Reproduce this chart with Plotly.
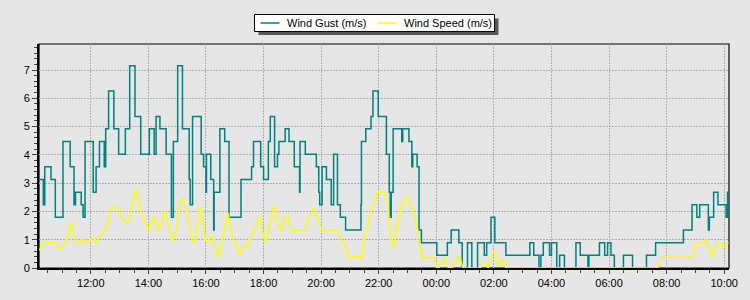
import plotly.graph_objects as go

D1 = "2024-06-01 "
D2 = "2024-06-02 "

# Wind gust (m/s) - value changes (step line)
gust_times = [
    D1+"10:13", D1+"10:21", D1+"10:24", D1+"10:37", D1+"10:46", D1+"11:02", D1+"11:17", D1+"11:25",
    D1+"11:28", D1+"11:40", D1+"11:44", D1+"11:48", D1+"12:05", D1+"12:11", D1+"12:18", D1+"12:28",
    D1+"12:31", D1+"12:37", D1+"12:48", D1+"12:58", D1+"13:12", D1+"13:21", D1+"13:32", D1+"13:44",
    D1+"14:02", D1+"14:12", D1+"14:16", D1+"14:24", D1+"14:37", D1+"14:48", D1+"14:52", D1+"15:01",
    D1+"15:11", D1+"15:25", D1+"15:27", D1+"15:32", D1+"15:50", D1+"15:55", D1+"16:00", D1+"16:01",
    D1+"16:10", D1+"16:16", D1+"16:17", D1+"16:29", D1+"16:39", D1+"16:48", D1+"17:13", D1+"17:35",
    D1+"17:39", D1+"17:54", D1+"18:00", D1+"18:10", D1+"18:14", D1+"18:23", D1+"18:29", D1+"18:32",
    D1+"18:45", D1+"18:53", D1+"19:04", D1+"19:15", D1+"19:16", D1+"19:27", D1+"19:50", D1+"19:55",
    D1+"19:57", D1+"20:02", D1+"20:11", D1+"20:21", D1+"20:26", D1+"20:34", D1+"20:40", D1+"20:51",
    D1+"21:23", D1+"21:24", D1+"21:33", D1+"21:44", D1+"21:48", D1+"21:59", D1+"22:16", D1+"22:22",
    D1+"22:24", D1+"22:26", D1+"22:30", D1+"22:48", D1+"22:50", D1+"23:03", D1+"23:09", D1+"23:11",
    D1+"23:20", D1+"23:24", D1+"23:29", D2+"00:01", D2+"00:23", D2+"00:31", D2+"00:47", D2+"00:54",
    D2+"01:05", D2+"01:14", D2+"01:26", D2+"01:40", D2+"01:45", D2+"01:54", D2+"02:02", D2+"02:25",
    D2+"03:15", D2+"03:23", D2+"03:34", D2+"03:38", D2+"03:43", D2+"03:56", D2+"04:00", D2+"04:11",
    D2+"04:17", D2+"04:27", D2+"04:51", D2+"05:00", D2+"05:16", D2+"05:18", D2+"05:40", D2+"05:51",
    D2+"05:57", D2+"06:04", D2+"06:11", D2+"06:30", D2+"06:49", D2+"07:18", D2+"07:37", D2+"08:35",
    D2+"08:53", D2+"09:03", D2+"09:09", D2+"09:27", D2+"09:29", D2+"09:38", D2+"09:47", D2+"10:04",
    D2+"10:07", D2+"10:09",
]
gust_values = [
    3.13, 2.24, 3.58, 3.13, 1.79, 4.47, 3.58, 2.24,
    2.68, 2.24, 1.79, 4.47, 2.68, 3.58, 4.47, 3.58,
    4.92, 6.26, 4.92, 4.02, 4.92, 7.15, 5.36, 4.02,
    4.92, 4.02, 5.36, 4.92, 4.02, 1.79, 4.47, 7.15,
    4.92, 3.13, 2.24, 5.36, 4.02, 3.58, 2.68, 4.02,
    3.13, 1.34, 2.68, 4.92, 4.47, 1.79, 3.13, 3.58,
    4.47, 3.58, 3.13, 4.47, 5.36, 3.58, 4.02, 4.47,
    4.92, 4.47, 3.58, 2.68, 4.47, 4.02, 3.58, 2.68,
    2.24, 3.58, 3.13, 2.24, 4.02, 2.24, 1.79, 1.34,
    2.24, 4.47, 4.92, 5.36, 6.26, 5.36, 4.02, 2.68,
    1.79, 2.68, 4.92, 4.47, 4.92, 4.47, 3.58, 4.02,
    3.58, 1.34, 0.89, 0.45, 0.89, 1.34, 0.89, 0.00,
    0.89, 0.00, 0.89, 0.45, 0.89, 1.79, 0.89, 0.45,
    0.89, 0.45, 0.00, 0.45, 0.89, 0.45, 0.89, 0.00,
    0.45, 0.00, 0.89, 0.45, 0.00, 0.45, 0.89, 0.45,
    0.89, 0.45, 0.00, 0.45, 0.00, 0.45, 0.89, 1.34,
    2.24, 1.79, 2.24, 1.34, 1.79, 2.68, 2.24, 1.79,
    2.68, 2.68,
]

# Wind speed (m/s)
speed_times = [
    D1+"10:13", D1+"10:19", D1+"10:47", D1+"10:50", D1+"10:57", D1+"11:02", D1+"11:08", D1+"11:13",
    D1+"11:18", D1+"11:21", D1+"11:25", D1+"11:29", D1+"11:37", D1+"11:40", D1+"11:46", D1+"11:49",
    D1+"11:56", D1+"12:00", D1+"12:06", D1+"12:11", D1+"12:17", D1+"12:23", D1+"12:30", D1+"12:35",
    D1+"12:41", D1+"12:46", D1+"12:56", D1+"13:00", D1+"13:05", D1+"13:10", D1+"13:15", D1+"13:20",
    D1+"13:26", D1+"13:30", D1+"13:34", D1+"13:37", D1+"13:43", D1+"13:50", D1+"13:57", D1+"14:00",
    D1+"14:07", D1+"14:12", D1+"14:16", D1+"14:21", D1+"14:28", D1+"14:33", D1+"14:38", D1+"14:43",
    D1+"14:50", D1+"14:55", D1+"14:59", D1+"15:04", D1+"15:10", D1+"15:14", D1+"15:18", D1+"15:25",
    D1+"15:30", D1+"15:33", D1+"15:37", D1+"15:42", D1+"15:47", D1+"15:51", D1+"15:55", D1+"15:59",
    D1+"16:04", D1+"16:08", D1+"16:14", D1+"16:17", D1+"16:21", D1+"16:24", D1+"16:29", D1+"16:33",
    D1+"16:38", D1+"16:43", D1+"16:47", D1+"16:50", D1+"16:55", D1+"17:02", D1+"17:07", D1+"17:11",
    D1+"17:15", D1+"17:20", D1+"17:26", D1+"17:33", D1+"17:39", D1+"17:46", D1+"17:52", D1+"17:55",
    D1+"18:00", D1+"18:05", D1+"18:10", D1+"18:15", D1+"18:22", D1+"18:26", D1+"18:31", D1+"18:36",
    D1+"18:41", D1+"18:47", D1+"18:51", D1+"18:56", D1+"19:00", D1+"19:26", D1+"19:29", D1+"19:33",
    D1+"19:39", D1+"19:43", D1+"19:46", D1+"19:51", D1+"19:58", D1+"20:02", D1+"20:31", D1+"20:38",
    D1+"20:43", D1+"20:49", D1+"20:53", D1+"20:57", D1+"21:19", D1+"21:23", D1+"21:27", D1+"21:31",
    D1+"21:36", D1+"21:43", D1+"21:50", D1+"21:57", D1+"22:14", D1+"22:17", D1+"22:21", D1+"22:26",
    D1+"22:30", D1+"22:33", D1+"22:38", D1+"22:44", D1+"22:51", D1+"22:57", D1+"23:02", D1+"23:08",
    D1+"23:14", D1+"23:20", D1+"23:27", D1+"23:32", D1+"23:37", D1+"23:44", D1+"23:54", D1+"23:58",
    D2+"00:01", D2+"00:05", D2+"00:09", D2+"00:15", D2+"00:18", D2+"00:22", D2+"00:25", D2+"00:34",
    D2+"00:39", D2+"00:46", D2+"00:50", D2+"00:56", D2+"01:31", D2+"01:38", D2+"01:45", D2+"01:48",
    D2+"01:52", D2+"01:59", D2+"02:04", D2+"02:08", D2+"02:13", D2+"02:16", D2+"02:21", D2+"02:25",
    D2+"07:41", D2+"07:50", D2+"08:53", D2+"09:02", D2+"09:14", D2+"09:22", D2+"09:27", D2+"09:34",
    D2+"09:38", D2+"09:45", D2+"09:52", D2+"09:57", D2+"10:02", D2+"10:07", D2+"10:09",
]
speed_values = [
    0.62, 0.89, 0.89, 0.74, 0.67, 0.86, 0.89, 1.27,
    1.60, 1.54, 1.10, 0.89, 0.89, 0.98, 0.98, 0.89,
    0.89, 1.04, 1.06, 0.89, 1.06, 1.27, 1.33, 1.57,
    2.00, 2.17, 2.14, 2.00, 1.75, 1.69, 1.60, 1.67,
    2.17, 2.64, 2.76, 2.52, 2.05, 1.80, 1.45, 1.33,
    1.63, 1.83, 1.63, 1.33, 1.63, 2.00, 1.93, 1.45,
    0.95, 1.10, 1.45, 2.17, 2.48, 2.40, 2.17, 1.69,
    1.04, 0.92, 0.92, 1.45, 2.14, 2.05, 1.45, 0.98,
    0.92, 1.10, 1.10, 0.86, 0.62, 0.38, 0.62, 0.86,
    1.27, 1.88, 1.93, 1.45, 1.10, 0.80, 0.62, 0.48,
    0.68, 0.80, 0.74, 1.10, 1.27, 1.57, 1.81, 1.63,
    1.10, 0.92, 1.21, 1.75, 2.19, 2.05, 1.51, 1.27,
    1.57, 1.83, 1.81, 1.45, 1.33, 1.33, 1.45, 1.81,
    1.90, 2.10, 2.05, 1.81, 1.49, 1.33, 1.33, 1.21,
    0.92, 0.86, 0.62, 0.40, 0.40, 0.32, 0.62, 1.10,
    1.45, 1.93, 2.29, 2.70, 2.69, 2.46, 1.81, 1.04,
    0.74, 0.82, 1.45, 1.95, 2.35, 2.52, 2.46, 2.10,
    1.87, 1.45, 0.74, 0.32, 0.36, 0.38, 0.38, 0.26,
    0.00, 0.00, 0.14, 0.32, 0.38, 0.14, 0.00, 0.02,
    0.20, 0.40, 0.32, 0.00, 0.00, 0.14, 0.14, 0.00,
    0.26, 0.56, 0.56, 0.14, 0.14, 0.26, 0.26, 0.00,
    0.00, 0.38, 0.38, 0.89, 0.89, 0.98, 0.74, 0.38,
    0.62, 0.89, 0.89, 0.74, 0.74, 0.89, 0.89,
]

series_names = ["Wind Gust (m/s)", "Wind Speed (m/s)"]
series_colors = ["#008080", "#ffff00"]
y_ticks = [0, 1, 2, 3, 4, 5, 6, 7]
x_range = [D1 + "10:12", D2 + "10:10"]
y_range = [0, 7.92]

FONT = "Liberation Sans, Arial, sans-serif"
BG = "#e6e6e6"
GRID = "#b0b0b0"

W, H = 750, 300
ML, MR, MT, MB = 39, 21, 44, 32
PW, PH = W - ML - MR, H - MT - MB


def px(x):  # pixel -> paper x
    return (x - ML) / PW


def py(y):  # pixel -> paper y
    return (H - MB - y) / PH


fig = go.Figure()
fig.add_trace(go.Scatter(
    x=gust_times, y=gust_values, name=series_names[0], mode="lines",
    line=dict(color=series_colors[0], width=1.5, shape="hv"), cliponaxis=False,
    showlegend=False,
))
fig.add_trace(go.Scatter(
    x=speed_times, y=speed_values, name=series_names[1], mode="lines",
    line=dict(color=series_colors[1], width=1.5), cliponaxis=False,
    showlegend=False,
))

# thin frame on top / right
fig.add_shape(type="rect", xref="paper", yref="paper", x0=0, y0=0, x1=1, y1=1,
              line=dict(color="black", width=1.2), layer="below")

# legend box with shadow
LX0, LX1, LY0, LY1 = 254.5, 494.5, 14.5, 31.5
fig.add_shape(type="rect", xref="paper", yref="paper",
              x0=px(LX0 + 4), x1=px(LX1 + 4), y0=py(LY1 + 3.5), y1=py(LY0 + 4),
              line=dict(width=0), fillcolor="rgba(40,40,40,0.75)", layer="above")
fig.add_shape(type="rect", xref="paper", yref="paper",
              x0=px(LX0), x1=px(LX1), y0=py(LY1), y1=py(LY0),
              line=dict(color="black", width=1), fillcolor="white", layer="above")
legend_items = [(260.5, 279.5, 284.5), (377.5, 397.0, 401.5)]
for (l0, l1, tx), name, col in zip(legend_items, series_names, series_colors):
    fig.add_shape(type="line", xref="paper", yref="paper",
                  x0=px(l0), x1=px(l1), y0=py(23), y1=py(23),
                  line=dict(color=col, width=1.5), layer="above")
    fig.add_annotation(xref="paper", yref="paper", x=px(tx), y=py(23),
                       xanchor="left", yanchor="middle", text=name, showarrow=False,
                       font=dict(family=FONT, size=11, color="black"))

fig.update_layout(
    width=W, height=H,
    margin=dict(l=ML, r=MR, t=MT, b=MB),
    paper_bgcolor=BG, plot_bgcolor=BG,
    font=dict(family=FONT, size=11, color="black"),
    showlegend=False,
    xaxis=dict(
        type="date", range=x_range, tickformat="%H:%M",
        tick0=D1 + "00:00", dtick=2 * 3600 * 1000,
        ticks="outside", ticklen=4, tickcolor="#444",
        showgrid=True, gridcolor=GRID, griddash="1.5px,1.5px", gridwidth=1,
        showline=True, linecolor="black", linewidth=2,
        zeroline=False, layer="below traces",
        minor=dict(dtick=30 * 60 * 1000, ticks="outside", ticklen=3,
                   tickcolor="#444", showgrid=False),
        tickfont=dict(family=FONT, size=11, color="black"),
    ),
    yaxis=dict(
        range=y_range, tickvals=y_ticks,
        ticks="outside", ticklen=5, tickcolor="#444",
        showgrid=True, gridcolor=GRID, griddash="1.5px,1.5px", gridwidth=1,
        showline=True, linecolor="black", linewidth=2,
        zeroline=False, layer="below traces",
        minor=dict(dtick=0.2, ticks="outside", ticklen=3,
                   tickcolor="#444", showgrid=False),
        tickfont=dict(family=FONT, size=11, color="black"),
    ),
)

fig.write_html("out.html")
